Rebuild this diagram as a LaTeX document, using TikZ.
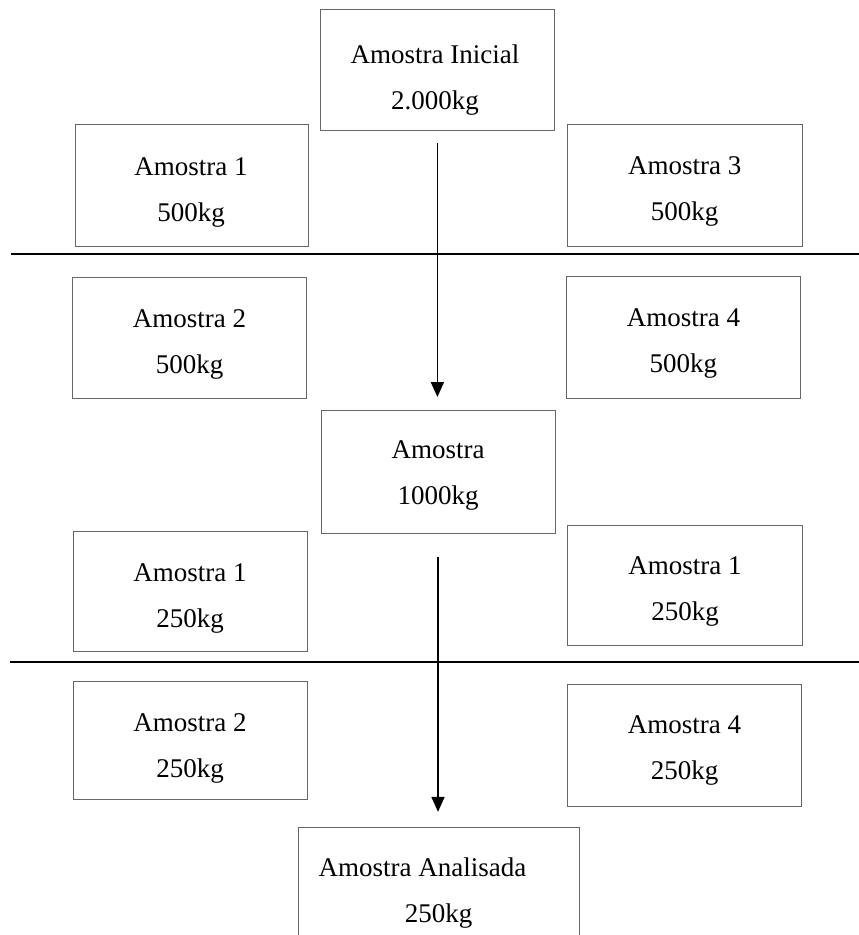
\documentclass[tikz,border=0pt]{standalone}
\usepackage{fontspec}
\setmainfont{Liberation Serif}
\usetikzlibrary{arrows.meta}
\tikzset{
  boxn/.style={draw=black!60, line width=0.9pt, inner sep=0pt, outer sep=0pt},
  lbl/.style={anchor=north, inner sep=0pt, align=center, font=\fontsize{27}{46}\selectfont},
  sepline/.style={line width=1.8pt, black},
  arr/.style={line width=1.8pt, -{Triangle[width=13pt,length=15pt]}}
}
\begin{document}
\begin{tikzpicture}[x=1pt,y=-1pt]
\useasboundingbox (0,0) rectangle (859,935);
\clip (0,0) rectangle (859,935);

% boxes
\node[boxn, minimum width=233.3pt, minimum height=121pt] (ini) at (437.4,70) {};
\node[boxn, minimum width=233pt, minimum height=122pt] (a1) at (191.5,185.7) {};
\node[boxn, minimum width=234.6pt, minimum height=122.4pt] (a3) at (685,185.5) {};
\node[boxn, minimum width=234pt, minimum height=121pt] (a2) at (189.5,337.5) {};
\node[boxn, minimum width=234.7pt, minimum height=122.3pt] (a4) at (683.4,337.2) {};
\node[boxn, minimum width=234pt, minimum height=123pt] (amo) at (438,471.5) {};
\node[boxn, minimum width=233.7pt, minimum height=120pt] (b1) at (190.2,591) {};
\node[boxn, minimum width=234.6pt, minimum height=120pt] (b1r) at (685,585) {};
\node[boxn, minimum width=233.7pt, minimum height=117.6pt] (b2) at (190.2,740.5) {};
\node[boxn, minimum width=234.4pt, minimum height=122pt] (b4) at (684.5,745) {};
\node[boxn, minimum width=280.7pt, minimum height=132.7pt] (ana) at (438.7,893.7) {};

% labels
\node[lbl] (tini) at (435,45) {Amostra Inicial\\2.000kg};
\node[lbl] (ta1) at (191,157.4) {Amostra 1\\500kg};
\node[lbl] (ta3) at (684.7,156) {Amostra 3\\500kg};
\node[lbl] (ta2) at (189.5,309.2) {Amostra 2\\500kg};
\node[lbl] (ta4) at (683.4,308.4) {Amostra 4\\500kg};
\node[lbl] (tamo) at (438,440) {Amostra\\1000kg};
\node[lbl] (tb1) at (190,563.4) {Amostra 1\\250kg};
\node[lbl] (tb1r) at (685,556.7) {Amostra 1\\250kg};
\node[lbl] (tb2) at (190,713.4) {Amostra 2\\250kg};
\node[lbl] (tb4) at (684.5,715) {Amostra 4\\250kg};
\node[lbl] (tana) at (438.5,857.4) {\hspace*{-32pt}Amostra Analisada\\250kg};

% separator lines
\coordinate (l1a) at (11,254.3);
\coordinate (l1b) at (859,254.3);
\coordinate (l2a) at (10,662.3);
\coordinate (l2b) at (859,662.3);
\draw[sepline] (l1a) -- (l1b);
\draw[sepline] (l2a) -- (l2b);

% arrows
\draw[arr, shorten <=12.5pt, shorten >=13pt] (ini.south) -- (ini.south |- amo.north);
\draw[arr, shorten <=24pt, shorten >=15.5pt] (amo.south) -- (amo.south |- ana.north);
\end{tikzpicture}
\end{document}
